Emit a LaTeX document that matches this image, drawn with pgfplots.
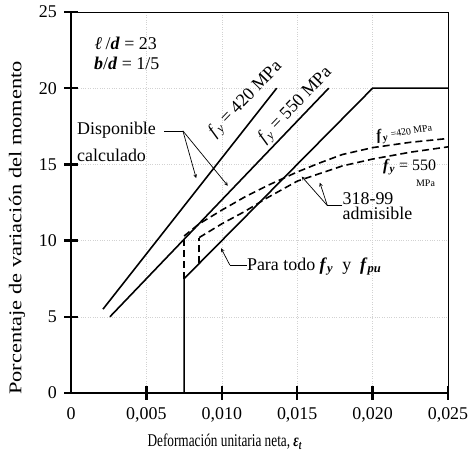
\documentclass[border=0pt]{standalone}
\usepackage{fontspec}
\setmainfont{Liberation Serif}
\usepackage{graphicx}
\usepackage{pgfplots}
\pgfplotsset{compat=1.18}
\newcommand{\fyb}{\textbf{\textit{f}}\textsubscript{\textbf{\textit{y}}}}
\newcommand{\fyi}{\textit{f}\textsubscript{\textit{y}}}
\newcommand{\xlab}{\scalebox{0.74}[1]{Deformación unitaria neta, \textbf{\textit{ε}}\textsubscript{\textbf{\textit{t}}}}}
\newcommand{\ylab}{\scalebox{1.25}[1]{Porcentaje de variación del momento}}
\begin{document}
\fontsize{18}{21}\selectfont
\begin{tikzpicture}
\useasboundingbox (-71bp,-58bp) rectangle (399bp,393bp);
\begin{axis}[
  at={(0,0)}, anchor=south west,
  scale only axis, width=377bp, height=381bp,
  xmin=0, xmax=0.025, ymin=0, ymax=25,
  xtick={0,0.005,0.010,0.015,0.020,0.025},
  xticklabels={0,{0,005},{0,010},{0,015},{0,020},{0,025}},
  ytick={0,5,10,15,20,25},
  scaled x ticks=false,
  /pgf/number format/assume math mode=true,
  major tick length=0pt,
  xtick pos=left, ytick pos=left,
  axis line style={line width=0.8pt},
  grid=major, grid style={gray!35, dotted, line width=0.6pt},
  ticklabel style={font=\fontsize{18}{21}\selectfont},
  xticklabel style={yshift=-8bp},
  yticklabel style={xshift=-8bp},
  label style={font=\fontsize{18}{21}\selectfont},
  every axis x label/.style={at={(axis description cs:0.408,-0.128)}, anchor=center},
  every axis y label/.style={at={(axis description cs:-0.143,0.433)}, anchor=center, rotate=90},
  xlabel={\xlab},
  ylabel={\ylab},
  clip=false,
]
% thick left and bottom axis lines
\draw[black, line width=2.4pt] (axis cs:0,25) -- (axis cs:0,0) -- (axis cs:0.025,0);
% tick marks
\draw[black, line width=2.4pt] (axis cs:0.005,-0.45) -- (axis cs:0.005,0.45);
\draw[black, line width=2.4pt] (axis cs:0.010,-0.45) -- (axis cs:0.010,0.45);
\draw[black, line width=2.4pt] (axis cs:0.015,-0.45) -- (axis cs:0.015,0.45);
\draw[black, line width=2.4pt] (axis cs:0.020,-0.45) -- (axis cs:0.020,0.45);
\draw[black, line width=2.4pt] (axis cs:0.025,-0.45) -- (axis cs:0.025,0.45);
\draw[black, line width=2.4pt] (axis cs:-0.00045,0) -- (axis cs:0.00045,0);
\draw[black, line width=2.4pt] (axis cs:-0.00045,5) -- (axis cs:0.00045,5);
\draw[black, line width=2.4pt] (axis cs:-0.00045,10) -- (axis cs:0.00045,10);
\draw[black, line width=2.4pt] (axis cs:-0.00045,15) -- (axis cs:0.00045,15);
\draw[black, line width=2.4pt] (axis cs:-0.00045,20) -- (axis cs:0.00045,20);
\draw[black, line width=2.4pt] (axis cs:-0.00045,25) -- (axis cs:0.00045,25);

% Disponible calculado, fy = 420 MPa
\addplot[black, line width=1.6pt] coordinates {(0.00212,5.5) (0.01364,20.0)};
% Disponible calculado, fy = 550 MPa
\addplot[black, line width=1.6pt] coordinates {(0.00258,5.0) (0.01709,20.0)};
% Para todo fy y fpu
\addplot[black, line width=1.6pt] coordinates {(0.0075,0) (0.0075,7.5) (0.020,20.0) (0.025,20.0)};
% 318-99 admisible, fy = 420 MPa
\addplot[black, line width=1.6pt, dash pattern=on 7bp off 4bp] coordinates {(0.0075,7.5) (0.0075,10.3)};
\addplot[black, line width=1.6pt, dash pattern=on 7bp off 4bp] coordinates {
 (0.0075,10.3) (0.0085,11.1) (0.010,12.0) (0.0115,12.85) (0.013,13.6) (0.015,14.5)
 (0.0165,15.1) (0.018,15.65) (0.020,16.1) (0.0225,16.45) (0.025,16.7)};
% 318-99 admisible, fy = 550 MPa
\addplot[black, line width=1.6pt, dash pattern=on 7bp off 4bp] coordinates {(0.0085,8.5) (0.0085,10.2)};
\addplot[black, line width=1.6pt, dash pattern=on 7bp off 4bp] coordinates {
 (0.0085,10.2) (0.010,11.1) (0.0115,11.9) (0.013,12.8) (0.015,13.9) (0.0165,14.4)
 (0.018,14.9) (0.020,15.35) (0.0225,15.8) (0.025,16.15)};

% annotations
\node at (axis cs:0.00364,22.97) {\textbf{\textit{ℓ}}\,/\textbf{\textit{d}} = 23};
\node at (axis cs:0.00370,21.65) {\textbf{\textit{b}}/\textbf{\textit{d}} = 1/5};
\node[anchor=west, inner sep=0pt] at (axis cs:0.0004,17.26) {Disponible};
\node[anchor=west, inner sep=0pt] at (axis cs:0.0004,15.6) {calculado};
\draw[line width=0.7pt] (axis cs:0.0062,17.2) -- (axis cs:0.00742,17.2);
\draw[line width=0.7pt, -stealth] (axis cs:0.00742,17.2) -- (axis cs:0.0083,14.1);
\draw[line width=0.7pt, -stealth] (axis cs:0.00742,17.2) -- (axis cs:0.0104,13.6);

\node[rotate=46, inner sep=0pt] at (axis cs:0.01160,19.25) {\fyi{} = 420 MPa};
\node[rotate=46, inner sep=0pt] at (axis cs:0.0149,18.85) {\fyi{} = 550 MPa};

\node[rotate=10, inner sep=0pt] at (axis cs:0.0221,17.1) {{\fontsize{15}{17}\selectfont\fyb}\,{\fontsize{10}{12}\selectfont =420 MPa}};
\node[inner sep=0pt] at (axis cs:0.02245,14.83) {{\fontsize{16}{18}\selectfont\fyb{} = 550}};
\node[inner sep=0pt] at (axis cs:0.02351,13.75) {{\fontsize{10}{12}\selectfont MPa}};

\node[anchor=west, inner sep=0pt] at (axis cs:0.0180,12.75) {318-99};
\node[anchor=west, inner sep=0pt] at (axis cs:0.0180,11.8) {admisible};
\draw[line width=0.7pt] (axis cs:0.0180,12.3) -- (axis cs:0.0170,12.3);
\draw[line width=0.7pt, -stealth] (axis cs:0.0170,12.3) -- (axis cs:0.0153,14.2);
\draw[line width=0.7pt, -stealth] (axis cs:0.0170,12.3) -- (axis cs:0.0165,13.8);

\node[anchor=west, inner sep=0pt] at (axis cs:0.01166,8.3) {Para todo \fyb{} \ y \ \textbf{\textit{f}}\textsubscript{\textbf{\textit{pu}}}};
\draw[line width=0.7pt] (axis cs:0.01166,8.4) -- (axis cs:0.01053,8.4);
\draw[line width=0.7pt, -stealth] (axis cs:0.01053,8.4) -- (axis cs:0.00995,9.5);
\end{axis}
\end{tikzpicture}
\end{document}
